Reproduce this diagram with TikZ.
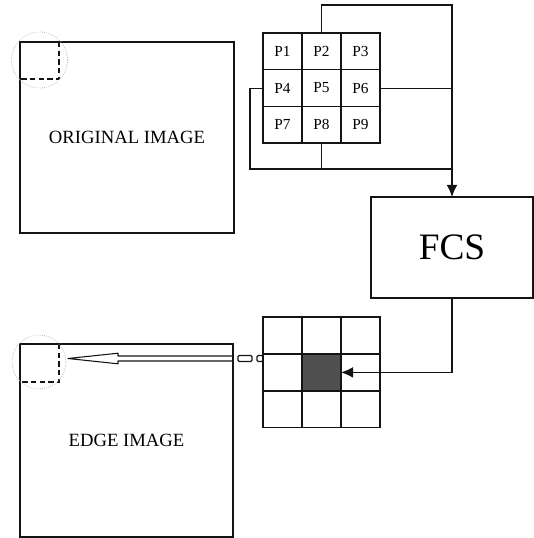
\documentclass[tikz,border=0pt]{standalone}
\usepackage{fontspec}
\setmainfont{Liberation Serif}
\usetikzlibrary{arrows.meta,positioning,calc}
\definecolor{ink}{RGB}{20,20,20}
\definecolor{stipple}{RGB}{80,80,80}
\tikzset{
  >={Latex[length=9pt,width=8pt]},
  imgbox/.style={draw=ink,line width=1.1pt,inner sep=0pt,outer sep=0pt,
    font=\fontsize{14}{16}\selectfont},
  cell/.style={draw=ink,line width=1.1pt,fill=#1,minimum width=29.25pt,minimum height=27.5pt,
    inner sep=0pt,outer sep=0pt,font=\fontsize{11.5}{13}\selectfont},
  cell/.default=white,
  link/.style={draw=ink,line width=0.8pt},
  crop/.style={draw=ink,line width=1pt,dash pattern=on 4pt off 2.5pt},
  lens/.style={draw=gray!50,densely dotted,line width=0.6pt},
}

\begin{document}
\begin{tikzpicture}[x=0.75pt,y=-0.75pt]
  \useasboundingbox (0,0) rectangle (534,538);
  % image frames
  \node[imgbox,minimum width=160.5pt,minimum height=143.25pt] (orig) at (127,137.5) {ORIGINAL IMAGE};
  \node[imgbox,minimum width=159.75pt,minimum height=144.75pt] (edge) at (126.5,440.5) {EDGE IMAGE};
  \draw[crop] ($(orig.north west)+(39,0)$) |- ($(orig.north west)+(0,37)$);
  \draw[crop] ($(edge.north west)+(39,0)$) |- ($(edge.north west)+(0,38)$);
  \draw[lens] ($(orig.north west)+(19.5,18)$) circle[radius=28];
  \draw[lens] ($(edge.north west)+(19,18)$) circle[radius=27];
  % windows
  \foreach \n/\c/\r/\shade in {1/0/0/white,2/1/0/white,3/2/0/white,4/0/1/white,5/1/1/stipple,
    6/2/1/white,7/0/2/white,8/1/2/white,9/2/2/white}{
    \node[cell] (p\n) at ({282.5+39*\c},{51.35+36.7*\r}) {P\n};
    \node[cell=\shade] (q\n) at ({282.5+39*\c},{335.5+36.9*\r}) {};
  }
  \node[draw=ink,line width=1.1pt,minimum width=121.5pt,minimum height=75.75pt,inner sep=0pt,
    outer sep=0pt,font=\fontsize{28}{30}\selectfont] (fcs) at (452,247.5) {FCS};
  % connectors
  \coordinate (over) at (452,5);
  \coordinate (merge) at (452,169);
  \coordinate (loop) at (250,169);
  \draw[link,->] (p2.north) |- (over) -- (fcs.north);
  \draw[link] (p6.east) -- (p6.east -| merge);
  \draw[link] (p4.west) -| (loop) -- (merge);
  \draw[link] (p8.south) -- (p8.south |- merge);
  \draw[link,->] (fcs.south) |- (q5.east);
  % result arrow
  \draw[ink,line width=0.8pt,line join=round] (68,358.5) -- (118,353.2) -- (118,356) -- (233,356)
    -- (233,361) -- (118,361) -- (118,363.8) -- cycle;
  \draw[ink,line width=0.9pt,rounded corners=1pt] (238,355.5) rectangle (252,361.5);
  \draw[ink,line width=0.9pt,rounded corners=1pt] (257,355.5) rectangle (263,361.5);
\end{tikzpicture}
\end{document}
